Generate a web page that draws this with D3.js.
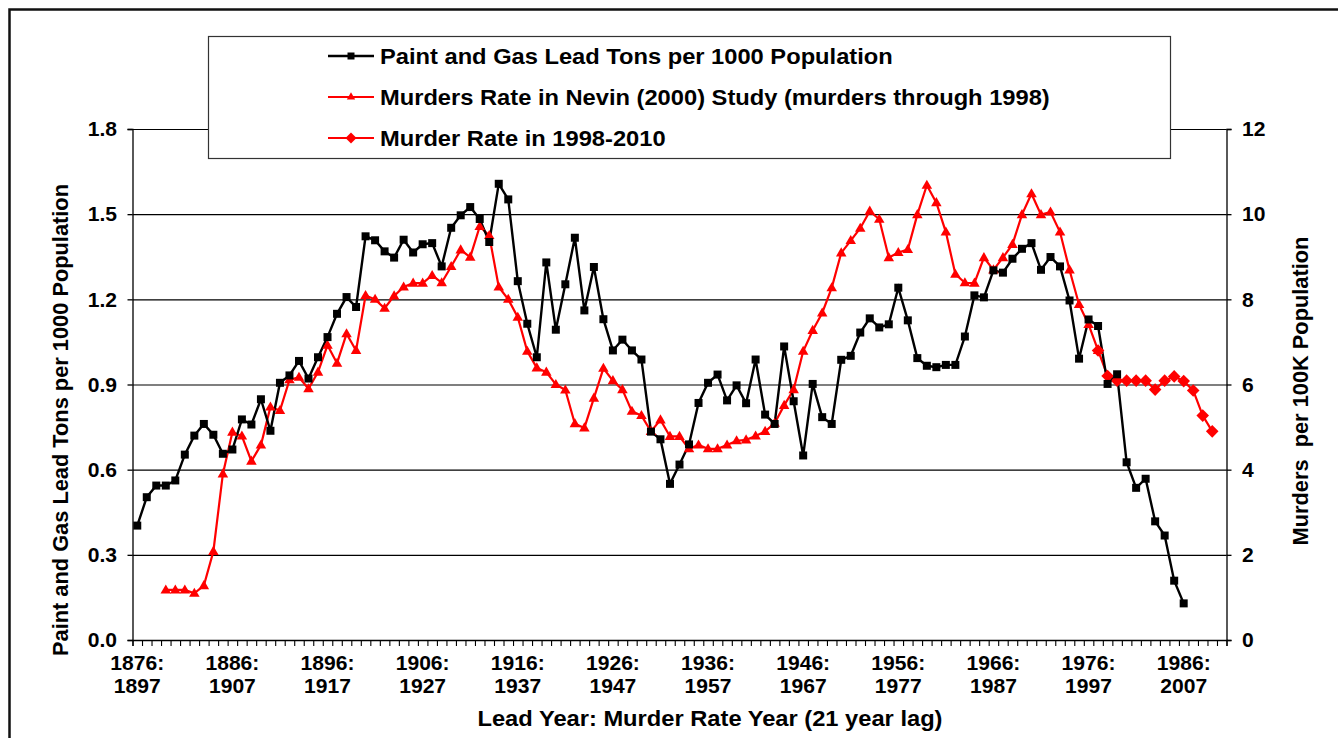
<!DOCTYPE html>
<html><head><meta charset="utf-8">
<script src="https://cdn.jsdelivr.net/npm/d3@7"></script>
<style>
body{margin:0;background:#fff;}
svg{display:block;font-family:"Liberation Sans",Arial,sans-serif;font-weight:bold;}
text{white-space:pre;}
</style></head><body>
<svg id="c" width="1338" height="738"></svg>
<script>
// ---------------- DATA ----------------
const firstLeadYear = 1876;
const lastLeadYear = 1990;
const leadYears = d3.range(firstLeadYear, lastLeadYear + 1);   // category axis
const tickLeadYears   = [1876,1886,1896,1906,1916,1926,1936,1946,1956,1966,1976,1986];
const tickMurderYears = [1897,1907,1917,1927,1937,1947,1957,1967,1977,1987,1997,2007];
const leftTicks  = [0,0.3,0.6,0.9,1.2,1.5,1.8];
const rightTicks = [0,2,4,6,8,10,12];

// Paint and Gas Lead Tons per 1000 Population (lead years 1876..1986)
const leadStartYear = 1876;
const leadTons = [
 0.403,0.503,0.544,0.544,0.562,0.653,0.720,0.761,0.723,0.656,
 0.671,0.777,0.759,0.848,0.737,0.906,0.932,0.983,0.921,0.996,
 1.067,1.149,1.208,1.173,1.422,1.408,1.369,1.347,1.410,1.365,
 1.394,1.398,1.316,1.452,1.496,1.525,1.483,1.402,1.607,1.552,
 1.264,1.114,0.996,1.330,1.093,1.253,1.417,1.161,1.314,1.130,
 1.020,1.058,1.020,0.988,0.734,0.707,0.550,0.618,0.689,0.835,
 0.906,0.935,0.844,0.897,0.834,0.988,0.794,0.761,1.034,0.841,
 0.650,0.902,0.785,0.761,0.987,1.001,1.083,1.133,1.101,1.112,
 1.241,1.126,0.993,0.966,0.961,0.969,0.969,1.069,1.214,1.207,
 1.302,1.294,1.343,1.378,1.398,1.304,1.349,1.316,1.196,0.991,
 1.129,1.106,0.902,0.936,0.626,0.536,0.568,0.418,0.368,0.209,
 0.129];

// Murders Rate in Nevin (2000) Study (lead years 1879..1977)
const nevinStartYear = 1879;
const nevinRate = [
 1.175,1.175,1.175,1.097,1.277,2.08,3.90,4.88,4.79,4.20,
 4.58,5.47,5.39,6.11,6.17,5.90,6.29,6.92,6.50,7.19,
 6.80,8.09,8.00,7.79,8.08,8.29,8.38,8.38,8.56,8.39,
 8.77,9.16,8.99,9.71,9.50,8.29,8.00,7.58,6.78,6.39,
 6.29,6.00,5.87,5.08,4.98,5.68,6.38,6.09,5.88,5.37,
 5.27,4.90,5.17,4.78,4.78,4.49,4.58,4.49,4.49,4.58,
 4.68,4.70,4.79,4.90,5.09,5.51,5.88,6.78,7.27,7.68,
 8.27,9.09,9.38,9.67,10.07,9.88,8.98,9.10,9.17,9.99,
 10.68,10.27,9.58,8.59,8.39,8.38,8.98,8.69,8.98,9.29,
 9.99,10.48,9.99,10.05,9.58,8.69,7.88,7.41,6.80];

// Murder Rate in 1998-2010 (lead years 1977..1989)
const recentStartYear = 1977;
const recentRate = [6.80,6.20,6.09,6.09,6.09,6.09,5.88,6.09,6.19,6.08,5.86,5.27,4.90];

const legendLabels = [
 "Paint and Gas Lead Tons per 1000 Population",
 "Murders Rate in Nevin (2000) Study (murders through 1998)",
 "Murder Rate in 1998-2010"];
const leftTitle  = "Paint and Gas Lead Tons per 1000 Population";
const rightTitle = "Murders  per 100K Population";
const xTitle     = "Lead Year: Murder Rate Year (21 year lag)";

// ---------------- CHART ----------------
const SX = 1.087; // horizontal stretch of the original picture
const svg = d3.select("#c");
const L = 132.5, R = 1226.5, T = 129, B = 640;

const x  = d3.scaleBand().domain(leadYears).range([L, R]).padding(0);
const xb = d3.scaleLinear().domain([0, leadYears.length]).range([L, R]);
const yL = d3.scaleLinear().domain([0, 1.8]).range([B, T]);
const yR = d3.scaleLinear().domain([0, 12]).range([B, T]);
const cx = yr => x(yr) + x.bandwidth() / 2;

// outer frame
svg.append("rect").attr("x", 9.5).attr("y", 9.5).attr("width", 1340).attr("height", 740)
  .attr("fill", "none").attr("stroke", "#111").attr("stroke-width", 2.5);

// gridlines
const grid = svg.append("g").attr("transform", `translate(${L},0)`)
  .call(d3.axisLeft(yL).tickValues(leftTicks).tickSize(-(R - L)).tickFormat(""));
grid.select(".domain").remove();
grid.selectAll("line").attr("stroke", "#000").attr("stroke-width", 1.1);

// series
const leadPts   = leadTons.map((v, i) => ({yr: leadStartYear + i, v}));
const nevinPts  = nevinRate.map((v, i) => ({yr: nevinStartYear + i, v}));
const recentPts = recentRate.map((v, i) => ({yr: recentStartYear + i, v}));

const lineL = d3.line().x(d => cx(d.yr)).y(d => yL(d.v));
const lineR = d3.line().x(d => cx(d.yr)).y(d => yR(d.v));

svg.append("path").datum(nevinPts).attr("d", lineR)
  .attr("fill", "none").attr("stroke", "#ff0000").attr("stroke-width", 2.2);
svg.append("path").datum(recentPts).attr("d", lineR)
  .attr("fill", "none").attr("stroke", "#ff0000").attr("stroke-width", 2.2);
svg.append("path").datum(leadPts).attr("d", lineL)
  .attr("fill", "none").attr("stroke", "#000").attr("stroke-width", 2.4);

const tri = d3.symbol().type(d3.symbolTriangle).size(48);
const sq  = d3.symbol().type(d3.symbolSquare).size(64);
const diamond = r => `M0,${-r}L${r},0L0,${r}L${-r},0Z`;

svg.append("g").selectAll("path").data(nevinPts).join("path")
  .attr("d", tri).attr("fill", "#ff0000")
  .attr("transform", d => `translate(${cx(d.yr)},${yR(d.v) + 0.5})`);
svg.append("g").selectAll("path").data(recentPts).join("path")
  .attr("d", diamond(6.3)).attr("fill", "#ff0000")
  .attr("transform", d => `translate(${cx(d.yr)},${yR(d.v)})`);
svg.append("g").selectAll("path").data(leadPts).join("path")
  .attr("d", sq).attr("fill", "#000")
  .attr("transform", d => `translate(${cx(d.yr)},${yL(d.v)})`);

// axes
function styleText(sel, size, dx) {
  sel.selectAll("text").attr("fill", "#000").attr("font-size", size)
    .attr("font-weight", "bold").attr("font-family", '"Liberation Sans",Arial,sans-serif')
    .attr("x", 0).attr("transform", `translate(${dx},0) scale(${SX},1)`);
}
const axL = svg.append("g").attr("transform", `translate(${L},0)`)
  .call(d3.axisLeft(yL).tickValues(leftTicks).tickSize(5).tickFormat(d3.format(".1f")));
axL.selectAll("line,path").attr("stroke", "#000").attr("stroke-width", 1.3);
styleText(axL, 19.4, -15.5);
axL.selectAll("text").attr("dy", "0.35em");

const axR = svg.append("g").attr("transform", `translate(${R},0)`)
  .call(d3.axisRight(yR).tickValues(rightTicks).tickSize(5).tickFormat(d3.format("d")));
axR.selectAll("line,path").attr("stroke", "#000").attr("stroke-width", 1.3);
styleText(axR, 19.4, 15.5);
axR.selectAll("text").attr("dy", "0.35em");

const axB = svg.append("g").attr("transform", `translate(0,${B})`)
  .call(d3.axisBottom(xb).tickValues(d3.range(0, leadYears.length + 1)).tickSize(6).tickFormat(""));
axB.selectAll("line,path").attr("stroke", "#000").attr("stroke-width", 1.1);
axB.select(".domain").attr("stroke-width", 1.3);

const axBL = svg.append("g").attr("transform", `translate(0,${B})`)
  .call(d3.axisBottom(x).tickValues(tickLeadYears).tickSize(0).tickFormat(""));
axBL.select(".domain").remove();
axBL.selectAll(".tick").each(function(d, i) {
  const g = d3.select(this);
  g.selectAll("text").remove();
  const t = g.append("text").attr("text-anchor", "middle").attr("font-size", 19.4)
    .attr("fill", "#000").attr("transform", `scale(${SX},1)`);
  t.append("tspan").attr("x", 0).attr("y", 30.5).text(d + ":");
  t.append("tspan").attr("x", 0).attr("y", 53).text(tickMurderYears[i]);
});

// titles
svg.append("text").attr("text-anchor", "middle").attr("font-size", 21.8)
  .attr("transform", `translate(710,726) scale(${SX},1)`).text(xTitle);
svg.append("text").attr("text-anchor", "middle").attr("font-size", 21.8)
  .attr("transform", `translate(68,420) rotate(-90)`).text(leftTitle);
svg.append("text").attr("text-anchor", "middle").attr("font-size", 21.8)
  .attr("transform", `translate(1308,391) rotate(-90)`).text(rightTitle);

// legend
const lg = svg.append("g");
lg.append("rect").attr("x", 208.5).attr("y", 36.5).attr("width", 962).attr("height", 122)
  .attr("fill", "#fff").attr("stroke", "#333").attr("stroke-width", 1.2);
const rowsY = [56, 97, 138];
const legColors = ["#000", "#ff0000", "#ff0000"];
rowsY.forEach((ry, i) => {
  lg.append("line").attr("x1", 328).attr("x2", 374).attr("y1", ry).attr("y2", ry)
    .attr("stroke", legColors[i]).attr("stroke-width", i === 0 ? 2.4 : 2.2);
  const m = lg.append("path").attr("fill", legColors[i]).attr("transform", `translate(351,${ry})`);
  if (i === 0) m.attr("d", d3.symbol().type(d3.symbolSquare).size(49)());
  else if (i === 1) m.attr("d", d3.symbol().type(d3.symbolTriangle).size(30)());
  else m.attr("d", diamond(5.5));
  lg.append("text").attr("font-size", 21.8).attr("dy", "0.36em")
    .attr("transform", `translate(380,${ry}) scale(${SX},1)`).text(legendLabels[i]);
});
</script>
</body></html>
